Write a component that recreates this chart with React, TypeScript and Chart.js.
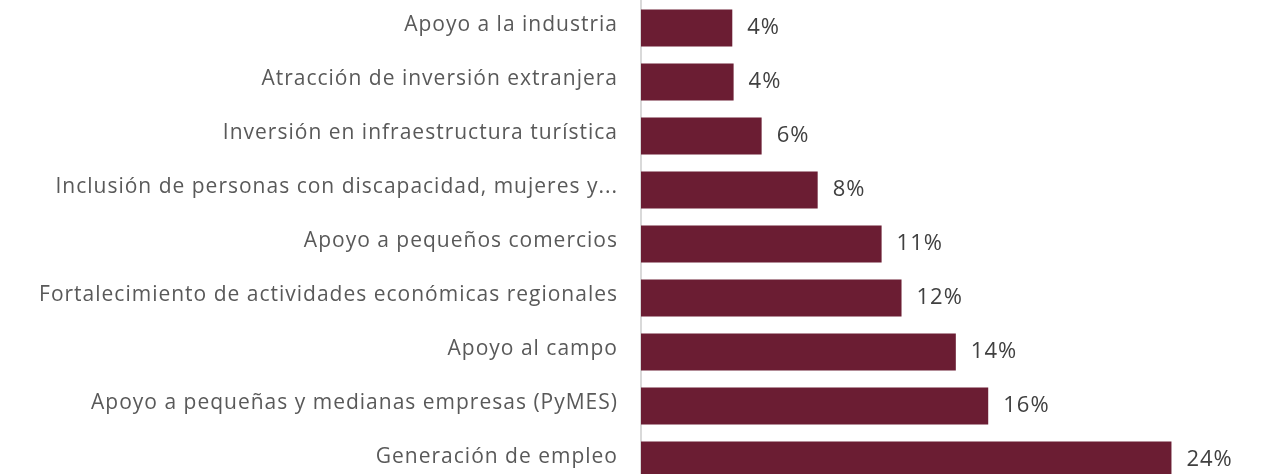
import React, { useEffect, useRef } from "react";
import { Chart, registerables } from "chart.js";

Chart.register(...registerables);

const categories: string[] = [
  "Apoyo a la industria",
  "Atracción de inversión extranjera",
  "Inversión en infraestructura turística",
  "Inclusión de personas con discapacidad, mujeres y...",
  "Apoyo a pequeños comercios",
  "Fortalecimiento de actividades económicas regionales",
  "Apoyo al campo",
  "Apoyo a pequeñas y medianas empresas (PyMES)",
  "Generación de empleo",
];

const values: number[] = [4.17, 4.23, 5.51, 8.07, 10.99, 11.9, 14.38, 15.86, 24.23];

const BAR_COLOR = "#6B1D33";
const FONT = "'Open Sans', sans-serif";

const spacingPlugin = {
  id: "letterSpacing",
  beforeDraw(chart: any) {
    try {
      chart.ctx.letterSpacing = "1px";
    } catch (e) {}
  },
};

const dataLabelPlugin = {
  id: "dataLabels",
  afterDatasetsDraw(chart: any) {
    const ctx = chart.ctx;
    const meta = chart.getDatasetMeta(0);
    ctx.save();
    try {
      ctx.letterSpacing = "1px";
    } catch (e) {}
    ctx.font = `400 22px ${FONT}`;
    ctx.fillStyle = "#404040";
    ctx.textAlign = "left";
    ctx.textBaseline = "middle";
    meta.data.forEach((bar: any, i: number) => {
      const v = chart.data.datasets[0].data[i] as number;
      ctx.fillText(`${Math.round(v)}%`, bar.x + 15, bar.y);
    });
    ctx.restore();
  },
};

export default function App() {
  const ref = useRef<HTMLCanvasElement>(null);
  useEffect(() => {
    if (!ref.current) return;
    const chart = new Chart(ref.current, {
      type: "bar",
      data: {
        labels: categories,
        datasets: [
          {
            data: values,
            backgroundColor: BAR_COLOR,
            barPercentage: 0.685,
            categoryPercentage: 1,
          },
        ],
      },
      options: {
        indexAxis: "y",
        animation: false,
        responsive: false,
        maintainAspectRatio: false,
        layout: { padding: { top: 1, bottom: 3, left: 0, right: 14 } },
        plugins: {
          legend: { display: false },
          tooltip: { enabled: false },
        },
        scales: {
          x: {
            display: false,
            min: 0,
            max: 28,
          },
          y: {
            afterFit(scale: any) {
              scale.width = 641;
              scale.paddingTop = 0;
              scale.paddingBottom = 0;
            },
            grid: { display: false, drawTicks: false },
            border: { display: true, color: "#D9D9D9", width: 2 },
            ticks: {
              padding: 23,
              labelOffset: -3,
              color: "#595959",
              font: { family: FONT, size: 21, weight: "400" },
            },
          },
        },
      },
      plugins: [spacingPlugin, dataLabelPlugin],
    });
    return () => chart.destroy();
  }, []);
  return (
    <div style={{ position: "absolute", left: 0, top: 0, width: 1268, height: 490 }}>
      <canvas ref={ref} width={1268} height={490} style={{ width: 1268, height: 490 }} />
    </div>
  );
}
